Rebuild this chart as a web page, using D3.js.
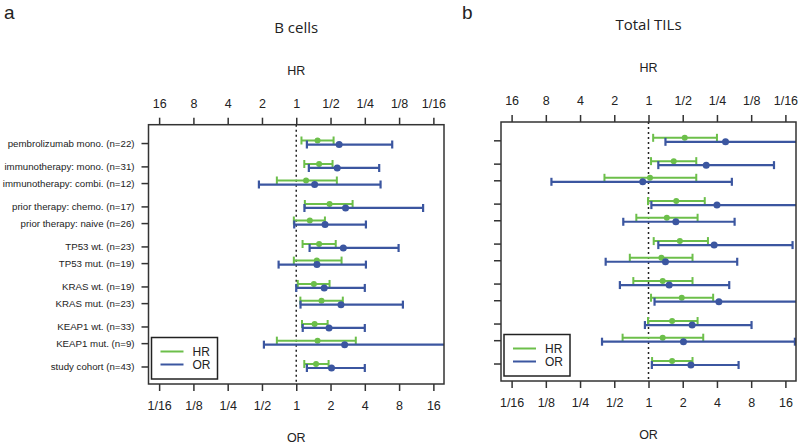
<!DOCTYPE html>
<html><head><meta charset="utf-8">
<script src="https://cdn.jsdelivr.net/npm/d3@7"></script>
<style>body{margin:0;background:#fff}svg{display:block}</style>
</head><body>
<svg id="chart" width="800" height="446"></svg>
<script>
const rowLabels = ["pembrolizumab mono. (n=22)","immunotherapy: mono. (n=31)","immunotherapy: combi. (n=12)",
  "prior therapy: chemo. (n=17)","prior therapy: naive (n=26)","TP53 wt. (n=23)","TP53 mut. (n=19)",
  "KRAS wt. (n=19)","KRAS mut. (n=23)","KEAP1 wt. (n=33)","KEAP1 mut. (n=9)","study cohort (n=43)"];
const rowGroups = [0,1,1,2,2,3,3,4,4,5,5,6];
const tickValues = [1/16,1/8,1/4,1/2,1,2,4,8,16];

// B cells
const bHR   = [0.65,0.63,0.82,0.51,0.76,0.63,0.66,0.70,0.60,0.69,0.65,0.67];
const bHRlo = [0.47,0.48,0.44,0.32,0.56,0.45,0.40,0.51,0.39,0.53,0.30,0.52];
const bHRhi = [0.90,0.85,1.48,0.84,1.05,0.88,1.05,0.97,0.92,0.89,1.48,0.85];
const bOR   = [2.38,2.29,1.45,2.71,1.79,2.59,1.52,1.76,2.47,1.94,2.66,2.04];
const bORlo = [1.24,1.29,0.47,1.18,0.96,1.31,0.70,1.00,1.09,1.14,0.52,1.24];
const bORhi = [6.96,5.35,5.50,13.0,4.09,7.92,4.09,4.00,8.64,4.00,30.0,4.00];
// Total TILs
const tHR   = [0.48,0.60,0.97,0.57,0.69,0.53,0.77,0.75,0.51,0.62,0.75,0.62];
const tHRlo = [0.25,0.38,0.38,0.32,0.37,0.30,0.41,0.41,0.27,0.37,0.33,0.41];
const tHRhi = [0.91,0.95,2.44,1.01,1.28,0.90,1.46,1.36,0.95,1.01,1.69,0.93];
const tOR   = [4.76,3.22,0.89,4.00,1.74,3.78,1.41,1.52,4.16,2.42,2.03,2.36];
const tORlo = [1.41,1.22,0.14,1.06,0.60,1.22,0.42,0.56,1.13,0.93,0.39,1.07];
const tORhi = [30.0,12.7,5.41,25.0,5.72,18.5,6.03,5.13,30.0,8.06,19.4,6.20];

const GREEN = "#6cbf4a", BLUE = "#3b56a0";
const FONT = "'Liberation Sans', Arial, sans-serif";
const svg = d3.select("#chart");
const fmt = v => v < 1 ? "1/" + Math.round(1 / v) : String(v);
const slot = i => i + rowGroups[i] * 0.4;

function panel(o) {
  const {x0, x1, y0, y1, letter, title, hr, hrLo, hrHi, or, orLo, orHi, showLabels, id} = o;
  const lim = Math.pow(2, 4.31);
  const xOR = d3.scaleLog().domain([1 / lim, lim]).range([x0, x1]);
  const xHR = d3.scaleLog().domain([lim, 1 / lim]).range([x0, x1]);
  const y = d3.scaleLinear().domain([-1.1, 14.45]).range([y0, y1]);
  const g = svg.append("g");

  g.append("text").attr("x", letter.x).attr("y", letter.y).text(letter.t)
    .attr("font-family", FONT).attr("font-size", 19).attr("fill", "#222");
  g.append("text").attr("x", xOR(1)).attr("y", y0 - 92).attr("text-anchor", "middle")
    .attr("font-family", "'Open Sans', sans-serif").attr("font-size", 15).attr("fill", "#222").text(title);
  g.append("text").attr("x", xOR(1)).attr("y", y0 - 50).attr("text-anchor", "middle")
    .attr("font-family", FONT).attr("font-size", 12.5).attr("fill", "#222").text("HR");
  g.append("text").attr("x", xOR(1)).attr("y", y1 + 58).attr("text-anchor", "middle")
    .attr("font-family", FONT).attr("font-size", 12.5).attr("fill", "#222").text("OR");

  const top = g.append("g").attr("transform", `translate(0,${y0})`)
    .call(d3.axisTop(xHR).tickValues(tickValues).tickFormat(fmt).tickSize(7).tickPadding(10));
  const bot = g.append("g").attr("transform", `translate(0,${y1})`)
    .call(d3.axisBottom(xOR).tickValues(tickValues).tickFormat(fmt).tickSize(7).tickPadding(10));
  const left = g.append("g").attr("transform", `translate(${x0},0)`)
    .call(d3.axisLeft(y).tickValues(d3.range(rowLabels.length).map(slot))
      .tickFormat((d, i) => showLabels ? rowLabels[i] : "").tickSize(7).tickPadding(7));
  [top, bot, left].forEach(a => {
    a.select(".domain").remove();
    a.selectAll("line").attr("stroke", "#333").attr("stroke-width", 1.5);
    a.selectAll("text").attr("font-family", FONT).attr("fill", "#222");
  });
  top.selectAll("text").attr("font-size", 12.5);
  bot.selectAll("text").attr("font-size", 12.5);
  left.selectAll("text").attr("font-size", 9.7);

  g.append("clipPath").attr("id", id).append("rect")
    .attr("x", x0).attr("y", y0).attr("width", x1 - x0).attr("height", y1 - y0);
  const plot = g.append("g").attr("clip-path", `url(#${id})`);

  plot.append("line").attr("x1", xOR(1)).attr("x2", xOR(1)).attr("y1", y0).attr("y2", y1)
    .attr("stroke", "#222").attr("stroke-width", 1.5).attr("stroke-dasharray", "2,3");

  function bars(sc, pt, lo, hi, dy, color, w, r) {
    const gg = plot.append("g");
    rowLabels.forEach((_, i) => {
      const yy = y(slot(i)) + dy;
      gg.append("line").attr("x1", sc(lo[i])).attr("x2", sc(hi[i])).attr("y1", yy).attr("y2", yy)
        .attr("stroke", color).attr("stroke-width", w);
      [lo[i], hi[i]].forEach(v => gg.append("line").attr("x1", sc(v)).attr("x2", sc(v))
        .attr("y1", yy - 4).attr("y2", yy + 4).attr("stroke", color).attr("stroke-width", w));
      gg.append("circle").attr("cx", sc(pt[i])).attr("cy", yy).attr("r", r).attr("fill", color);
    });
  }
  bars(xHR, hr, hrLo, hrHi, -2.5, GREEN, 2, 3);
  bars(xOR, or, orLo, orHi, 1.5, BLUE, 2.2, 3.5);

  g.append("rect").attr("x", x0).attr("y", y0).attr("width", x1 - x0).attr("height", y1 - y0)
    .attr("fill", "none").attr("stroke", "#333").attr("stroke-width", 1.5);

  // legend
  const lx = x0 + 3, ly = y1 - 46.5;
  const lg = g.append("g");
  lg.append("rect").attr("x", lx).attr("y", ly).attr("width", 66).attr("height", 41.5)
    .attr("fill", "#fff").attr("stroke", "#222").attr("stroke-width", 1.5);
  [["HR", GREEN], ["OR", BLUE]].forEach(([t, c], k) => {
    const yy = ly + 14 + k * 13;
    lg.append("line").attr("x1", lx + 9).attr("x2", lx + 32).attr("y1", yy).attr("y2", yy)
      .attr("stroke", c).attr("stroke-width", 2);
    lg.append("text").attr("x", lx + 41).attr("y", yy + 4.5).text(t)
      .attr("font-family", FONT).attr("font-size", 12).attr("fill", "#222");
  });
}

panel({x0: 148.5, x1: 444, y0: 124.7, y1: 384, letter: {x: 4, y: 19, t: "a"}, title: "B cells",
  hr: bHR, hrLo: bHRlo, hrHi: bHRhi, or: bOR, orLo: bORlo, orHi: bORhi, showLabels: true, id: "clipA"});
panel({x0: 501, x1: 796, y0: 122, y1: 381, letter: {x: 462, y: 19, t: "b"}, title: "Total TILs",
  hr: tHR, hrLo: tHRlo, hrHi: tHRhi, or: tOR, orLo: tORlo, orHi: tORhi, showLabels: false, id: "clipB"});
</script>
</body></html>
